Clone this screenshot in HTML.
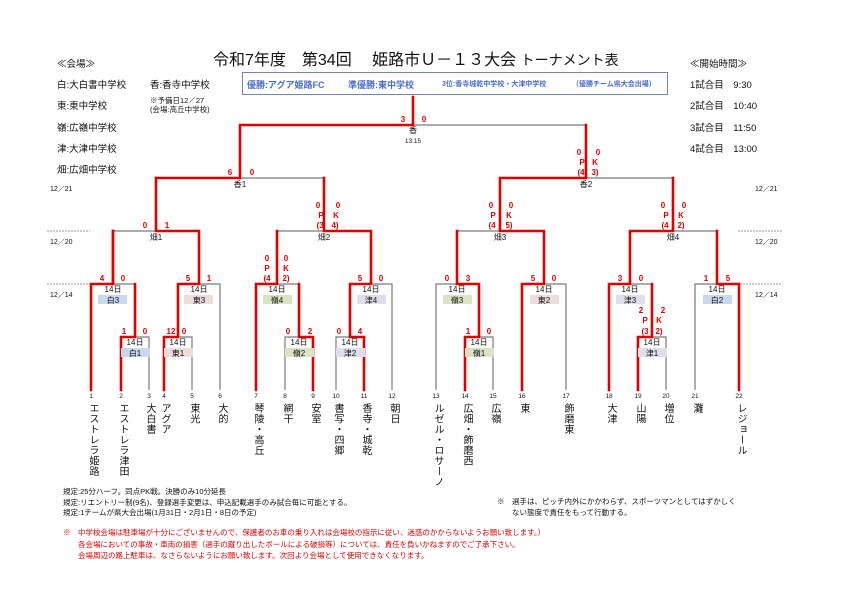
<!DOCTYPE html>
<html><head><meta charset="utf-8"><style>
body{margin:0;background:#fff;}
#w{position:relative;width:841px;height:595px;overflow:hidden;font-family:"Liberation Sans","Noto Sans CJK JP",sans-serif;color:#111;}
.a{position:absolute;white-space:nowrap;}
.v{position:absolute;writing-mode:vertical-rl;font-size:10px;line-height:10px;width:12px;transform:translateX(-6px);top:403px;letter-spacing:0.5px;}
svg text{font-family:"Liberation Sans","Noto Sans CJK JP",sans-serif;}
</style></head><body><div id="w">
<svg width="841" height="595" style="position:absolute;left:0;top:0">
<rect x="242.5" y="72.5" width="425" height="22" fill="#fff" stroke="#7185b5" stroke-width="1"/>
<g stroke="#999" stroke-width="1" stroke-dasharray="2,1">
<line x1="47" y1="231" x2="90" y2="231"/><line x1="47" y1="284" x2="90" y2="284"/>
<line x1="738" y1="231" x2="782" y2="231"/><line x1="740" y1="284" x2="782" y2="284"/>
</g>
<g stroke="#7a7a7a" stroke-width="1.2" fill="none">
<path d="M121 390V337H149V390"/><path d="M91 390V284H135V337"/>
<path d="M164 390V337H192V390"/><path d="M178 337V284H220V390"/>
<path d="M113 284V231H199V284"/>
<path d="M285 390V337H313V390"/><path d="M256 390V284H299V337"/>
<path d="M336 390V337H364V390"/><path d="M350 337V284H392V390"/>
<path d="M277 284V231H371V284"/><path d="M156 231V178H324V231"/>
<path d="M465 390V337H493V390"/><path d="M436 390V284H479V337"/>
<path d="M522 390V284H566V390"/><path d="M457 284V231H544V284"/>
<path d="M638 390V337H666V390"/><path d="M609 390V284H652V337"/>
<path d="M695 390V284H739V390"/><path d="M630 284V231H717V284"/>
<path d="M500 231V178H673V231"/><path d="M240 178V125H586V178"/>
</g>
<g stroke="#e00000" stroke-width="2.6" fill="none" stroke-linecap="square" stroke-linejoin="miter">
<path d="M121 390V337H135V284"/><path d="M91 390V284H113V231"/>
<path d="M164 390V337H178V284H199V231H156V178"/>
<path d="M113 231V284"/>
<path d="M313 390V337H299V284"/><path d="M256 390V284H277V231"/>
<path d="M364 390V337H350V284H371V231H324V178"/>
<path d="M156 178H240V125H413V97"/>
<path d="M465 390V337H479V284H457V231"/>
<path d="M522 390V284H544V231H500V178H586V125"/>
<path d="M638 390V337H652V284"/><path d="M609 390V284H630V231H673V178"/>
<path d="M739 390V284H717V231"/>
</g>
<g font-size="8" font-weight="bold" fill="#e00000" text-anchor="middle">
<text x="124" y="334">1</text><text x="145" y="334">0</text>
<text x="102" y="281">4</text><text x="123" y="281">0</text>
<text x="171" y="334">12</text><text x="184" y="334">0</text>
<text x="188" y="281">5</text><text x="209" y="281">1</text>
<text x="145" y="228">0</text><text x="167" y="228">1</text>
<text x="288" y="334">0</text><text x="310" y="334">2</text>
<text x="267" y="261">0</text><text x="267" y="271">P</text><text x="267" y="281">(4</text>
<text x="286" y="261">0</text><text x="286" y="271">K</text><text x="286" y="281">2)</text>
<text x="339" y="334">0</text><text x="360" y="334">4</text>
<text x="360" y="281">5</text><text x="381" y="281">0</text>
<text x="318" y="208">0</text><text x="321" y="218">P</text><text x="320" y="228">(3</text>
<text x="338" y="208">0</text><text x="336" y="218">K</text><text x="335" y="228">4)</text>
<text x="230" y="175">6</text><text x="252" y="175">0</text>
<text x="468" y="334">1</text><text x="489" y="334">0</text>
<text x="447" y="281">0</text><text x="468" y="281">3</text>
<text x="533" y="281">5</text><text x="554" y="281">0</text>
<text x="491" y="208">0</text><text x="493" y="218">P</text><text x="492" y="228">(4</text>
<text x="511" y="208">0</text><text x="509" y="218">K</text><text x="509" y="228">5)</text>
<text x="641" y="313">2</text><text x="645" y="323">P</text><text x="645" y="334">(3</text>
<text x="663" y="313">2</text><text x="659" y="323">K</text><text x="659" y="334">2)</text>
<text x="620" y="281">3</text><text x="641" y="281">0</text>
<text x="706" y="281">1</text><text x="728" y="281">5</text>
<text x="663" y="208">0</text><text x="666" y="218">P</text><text x="665" y="228">(4</text>
<text x="684" y="208">0</text><text x="681" y="218">K</text><text x="681" y="228">2)</text>
<text x="579" y="155">0</text><text x="582" y="165">P</text><text x="581" y="175">(4</text>
<text x="598" y="155">0</text><text x="595" y="165">K</text><text x="595" y="175">3)</text>
<text x="403" y="122">3</text><text x="424" y="122">0</text>
</g>
<g font-size="8" fill="#111" text-anchor="middle">
<text x="413" y="133">香</text><text x="413" y="143" font-size="6.5">13:15</text>
<text x="240" y="187">香1</text><text x="586" y="187">香2</text>
<text x="156" y="240">畑1</text><text x="324" y="240">畑2</text><text x="500" y="240">畑3</text><text x="673" y="240">畑4</text>
</g>
<g font-size="8" text-anchor="middle" fill="#111">
<rect x="98" y="295" width="29" height="9" fill="#c8d8ef"/><text x="113" y="292">14日</text><text x="113" y="303">白3</text>
<rect x="121" y="348" width="29" height="9" fill="#c8d8ef"/><text x="135" y="345">14日</text><text x="135" y="356">白1</text>
<rect x="164" y="348" width="29" height="9" fill="#ecdcdc"/><text x="178" y="345">14日</text><text x="178" y="356">東1</text>
<rect x="184" y="295" width="29" height="9" fill="#ecdcdc"/><text x="199" y="292">14日</text><text x="199" y="303">東3</text>
<rect x="263" y="295" width="29" height="9" fill="#dae3c3"/><text x="277" y="292">14日</text><text x="277" y="303">嶺4</text>
<rect x="285" y="348" width="29" height="9" fill="#dae3c3"/><text x="299" y="345">14日</text><text x="299" y="356">嶺2</text>
<rect x="336" y="348" width="29" height="9" fill="#dfdeec"/><text x="350" y="345">14日</text><text x="350" y="356">津2</text>
<rect x="357" y="295" width="29" height="9" fill="#dfdeec"/><text x="371" y="292">14日</text><text x="371" y="303">津4</text>
<rect x="443" y="295" width="29" height="9" fill="#dae3c3"/><text x="457" y="292">14日</text><text x="457" y="303">嶺3</text>
<rect x="465" y="348" width="29" height="9" fill="#dae3c3"/><text x="479" y="345">14日</text><text x="479" y="356">嶺1</text>
<rect x="530" y="295" width="29" height="9" fill="#ecdcdc"/><text x="544" y="292">14日</text><text x="544" y="303">東2</text>
<rect x="616" y="295" width="29" height="9" fill="#dfdeec"/><text x="630" y="292">14日</text><text x="630" y="303">津3</text>
<rect x="638" y="348" width="29" height="9" fill="#dfdeec"/><text x="652" y="345">14日</text><text x="652" y="356">津1</text>
<rect x="703" y="295" width="29" height="9" fill="#c8d8ef"/><text x="717" y="292">14日</text><text x="717" y="303">白2</text>
</g>
<g font-size="6.5" text-anchor="middle" fill="#111">
<text x="91" y="398">1</text><text x="121" y="398">2</text><text x="149" y="398">3</text><text x="164" y="398">4</text>
<text x="192" y="398">5</text><text x="220" y="398">6</text><text x="256" y="398">7</text><text x="285" y="398">8</text>
<text x="313" y="398">9</text><text x="336" y="398">10</text><text x="364" y="398">11</text><text x="392" y="398">12</text>
<text x="436" y="398">13</text><text x="465" y="398">14</text><text x="493" y="398">15</text><text x="522" y="398">16</text>
<text x="566" y="398">17</text><text x="609" y="398">18</text><text x="638" y="398">19</text><text x="666" y="398">20</text>
<text x="695" y="398">21</text><text x="739" y="398">22</text>
</g>
<g font-size="7" fill="#111">
<text x="50" y="191">12／21</text><text x="50" y="244">12／20</text><text x="50" y="297">12／14</text>
<text x="755" y="191">12／21</text><text x="755" y="244">12／20</text><text x="755" y="297">12／14</text>
</g>
</svg>
<div class="a" style="left:213px;top:46px;font-size:16px;">令和7年度　第34回　 姫路市Ｕ－１３大会 <span style="font-size:14px">トーナメント表</span></div>
<div class="a" style="left:57px;top:56px;font-size:9.5px;">≪会場≫</div>
<div class="a" style="left:57px;top:77px;font-size:9.5px;">白:大白書中学校</div>
<div class="a" style="left:150px;top:77px;font-size:9.5px;">香:香寺中学校</div>
<div class="a" style="left:57px;top:98px;font-size:9.5px;">東:東中学校</div>
<div class="a" style="left:57px;top:120px;font-size:9.5px;">嶺:広嶺中学校</div>
<div class="a" style="left:57px;top:141px;font-size:9.5px;">津:大津中学校</div>
<div class="a" style="left:57px;top:162px;font-size:9.5px;">畑:広畑中学校</div>
<div class="a" style="left:150px;top:96px;font-size:7.5px;line-height:9px;">※予備日12／27<br>(会場:高丘中学校)</div>
<div class="a" style="left:247px;top:78px;font-size:9px;font-weight:bold;color:#4a6dc6;">優勝:アグア姫路FC</div>
<div class="a" style="left:348px;top:78px;font-size:9px;font-weight:bold;color:#4a6dc6;">準優勝:東中学校</div>
<div class="a" style="left:442px;top:79px;font-size:7px;font-weight:bold;color:#4a6dc6;">3位:香寺城乾中学校・大津中学校</div>
<div class="a" style="left:572px;top:79px;font-size:7px;font-weight:bold;color:#4a6dc6;">（優勝チーム県大会出場）</div>
<div class="a" style="left:690px;top:56px;font-size:9.5px;">≪開始時間≫</div>
<div class="a" style="left:690px;top:77px;font-size:9.5px;">1試合目　9:30</div>
<div class="a" style="left:690px;top:98px;font-size:9.5px;">2試合目　10:40</div>
<div class="a" style="left:690px;top:120px;font-size:9.5px;">3試合目　11:50</div>
<div class="a" style="left:690px;top:141px;font-size:9.5px;">4試合目　13:00</div>
<div class="v" style="left:91px">エストレラ姫路</div>
<div class="v" style="left:121px">エストレラ津田</div>
<div class="v" style="left:148px">大白書</div>
<div class="v" style="left:163px">アグア</div>
<div class="v" style="left:192px">東光</div>
<div class="v" style="left:220px">大的</div>
<div class="v" style="left:256px">琴陵・高丘</div>
<div class="v" style="left:285px">網干</div>
<div class="v" style="left:313px">安室</div>
<div class="v" style="left:336px">書写・四郷</div>
<div class="v" style="left:364px">香寺・城乾</div>
<div class="v" style="left:392px">朝日</div>
<div class="v" style="left:436px">ルゼル・ロサーノ</div>
<div class="v" style="left:465px">広畑・飾磨西</div>
<div class="v" style="left:493px">広嶺</div>
<div class="v" style="left:522px">東</div>
<div class="v" style="left:566px">飾磨東</div>
<div class="v" style="left:609px">大津</div>
<div class="v" style="left:638px">山陽</div>
<div class="v" style="left:666px">増位</div>
<div class="v" style="left:695px">灘</div>
<div class="v" style="left:739px">レジョール</div>
<div class="a" style="left:63px;top:487px;font-size:7.5px;line-height:10.5px;">規定:25分ハーフ。同点PK戦。決勝のみ10分延長<br>規定:リエントリー制(9名)、登録選手変更は、申込記載選手のみ試合毎に可能とする。<br>規定:1チームが県大会出場(1月31日・2月1日・8日の予定)</div>
<div class="a" style="left:497px;top:497px;font-size:7.5px;line-height:10.5px;">※　選手は、ピッチ内外にかかわらず、スポーツマンとしてはずかしく<br>　　ない態度で責任をもって行動する。</div>
<div class="a" style="left:63px;top:527px;font-size:7.5px;line-height:11.5px;color:#e00000;">※　中学校会場は駐車場が十分にございませんので、保護者のお車の乗り入れは会場校の指示に従い、迷惑のかからないようお願い致します。）<br>　　各会場においての事故・車両の損害（選手の蹴り出したボールによる破損等）については、責任を負いかねますのでご了承下さい。<br>　　会場周辺の路上駐車は、なさらないようにお願い致します。次回より会場として使用できなくなります。</div>
</div></body></html>
